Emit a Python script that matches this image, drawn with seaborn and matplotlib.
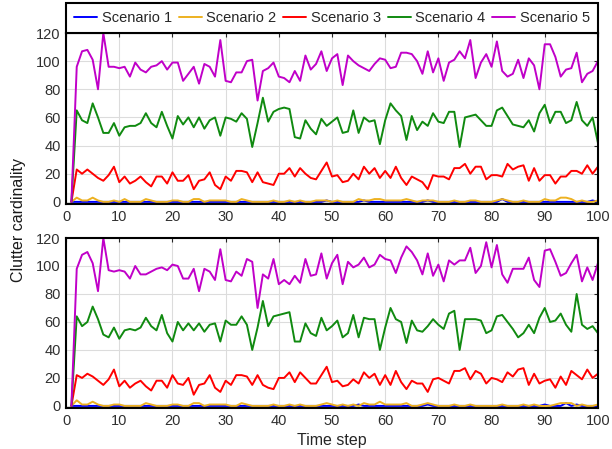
import matplotlib
matplotlib.use("Agg")
import matplotlib.pyplot as plt
import pandas as pd
import seaborn as sns

time_step = list(range(1, 101))
scenarios = ["Scenario 1", "Scenario 2", "Scenario 3", "Scenario 4", "Scenario 5"]
colors = ["#0000ff", "#edb120", "#ff0000", "#108a10", "#c000c8"]

top_s1 = [0, 0, 0, 0, 0, 0, 0, 0, 0, 0, 0, 0, 0, 0, 0, 0, 0, 0, 0, 0,
          0, 0, 0, 0, 0, 0, 0, 0, 0, 0, 0, 0, 0, 0, 0, 0, 0, 0, 0, 0,
          0, 0, 0, 0, 0, 0, 0, 0, 1, 0, 0, 0, 0, 0, 0, 1, 0, 0, 0, 0,
          0, 0, 0, 0, 0, 0, 0, 1, 0, 0, 0, 0, 0, 0, 0, 0, 0, 0, 0, 0,
          0, 2, 0, 0, 0, 0, 0, 0, 0, 0, 0, 0, 0, 0, 0, 0, 0, 0, 1, 0]
top_s2 = [0, 3, 1, 1, 3, 1, 0, 0, 1, 0, 2, 0, 0, 0, 2, 1, 0, 0, 0, 1,
          1, 0, 0, 2, 2, 0, 1, 1, 1, 1, 0, 0, 2, 1, 0, 0, 0, 0, 1, 0,
          0, 1, 0, 1, 0, 0, 1, 1, 1, 0, 1, 0, 0, 0, 2, 1, 1, 2, 2, 1,
          1, 1, 1, 2, 1, 0, 1, 1, 1, 0, 0, 0, 1, 0, 0, 1, 1, 0, 0, 0,
          1, 2, 1, 0, 0, 1, 0, 0, 0, 2, 1, 1, 3, 3, 2, 0, 1, 0, 0, 1]
top_s3 = [0, 23, 20, 23, 20, 17, 15, 19, 25, 14, 18, 13, 15, 18, 14, 11, 18, 18, 13, 21,
          15, 15, 19, 9, 15, 16, 21, 12, 9, 18, 15, 22, 22, 21, 14, 21, 14, 13, 12, 20,
          20, 24, 18, 24, 20, 17, 16, 22, 28, 18, 19, 14, 15, 20, 16, 25, 20, 24, 17, 22,
          17, 25, 17, 12, 18, 16, 14, 9, 19, 18, 18, 16, 24, 24, 27, 20, 25, 25, 16, 19,
          19, 18, 27, 23, 25, 26, 15, 24, 15, 19, 19, 13, 18, 18, 22, 22, 20, 26, 20, 25]
top_s4 = [0, 65, 58, 56, 70, 60, 49, 49, 56, 47, 53, 54, 54, 56, 63, 56, 53, 64, 54, 45,
          61, 55, 60, 53, 60, 52, 58, 60, 47, 60, 59, 57, 63, 59, 39, 56, 74, 57, 64, 66,
          67, 66, 46, 45, 58, 52, 48, 59, 54, 57, 60, 49, 50, 65, 49, 60, 57, 58, 41, 58,
          70, 65, 61, 44, 61, 51, 57, 54, 63, 57, 56, 64, 64, 39, 60, 61, 62, 58, 54, 54,
          65, 67, 61, 55, 54, 53, 58, 50, 63, 69, 56, 64, 64, 56, 58, 71, 58, 54, 60, 42]
top_s5 = [0, 96, 107, 108, 101, 80, 120, 96, 96, 95, 96, 89, 99, 94, 92, 96, 97, 100, 94, 99,
          99, 86, 91, 96, 84, 98, 96, 89, 115, 86, 85, 92, 92, 100, 101, 72, 93, 95, 99, 89,
          88, 85, 93, 86, 104, 94, 98, 107, 93, 102, 105, 83, 104, 100, 97, 95, 93, 98, 102, 101,
          95, 96, 106, 106, 105, 100, 91, 107, 92, 102, 86, 99, 101, 107, 102, 115, 88, 99, 105, 96,
          114, 93, 89, 91, 101, 88, 102, 97, 80, 112, 112, 103, 89, 94, 95, 106, 85, 91, 93, 100]

bottom_s1 = [0, 0, 0, 0, 0, 0, 0, 0, 0, 0, 0, 0, 0, 0, 0, 0, 0, 0, 0, 0,
             0, 0, 0, 0, 0, 0, 0, 0, 0, 0, 0, 0, 0, 0, 0, 0, 0, 0, 0, 0,
             0, 0, 0, 0, 0, 0, 0, 0, 0, 0, 0, 0, 0, 0, 1, 0, 0, 0, 0, 0,
             0, 0, 0, 0, 0, 0, 0, 1, 0, 0, 0, 0, 0, 0, 0, 0, 0, 0, 0, 0,
             0, 0, 0, 0, 0, 0, 0, 0, 0, 1, 0, 0, 0, 2, 0, 1, 0, 0, 0, 0]
bottom_s2 = [0, 4, 1, 1, 3, 1, 0, 0, 1, 1, 0, 0, 0, 0, 2, 1, 0, 0, 0, 1,
             1, 0, 0, 2, 2, 0, 1, 1, 1, 1, 0, 0, 2, 1, 0, 0, 0, 0, 1, 0,
             0, 1, 0, 1, 0, 0, 0, 1, 2, 1, 0, 1, 0, 1, 0, 2, 1, 1, 3, 1,
             1, 1, 1, 2, 0, 0, 1, 2, 1, 0, 0, 0, 1, 0, 0, 1, 0, 0, 0, 0,
             0, 1, 0, 0, 0, 1, 0, 1, 0, 0, 0, 1, 2, 2, 2, 0, 1, 0, 0, 1]
bottom_s3 = [0, 22, 20, 23, 21, 18, 15, 19, 26, 14, 18, 13, 16, 18, 14, 11, 18, 18, 13, 22,
             16, 15, 20, 8, 15, 16, 22, 13, 10, 18, 15, 22, 22, 21, 15, 22, 15, 13, 12, 20,
             20, 24, 17, 24, 20, 16, 16, 22, 28, 17, 18, 14, 15, 19, 16, 24, 20, 23, 15, 22,
             15, 25, 17, 12, 18, 16, 16, 10, 19, 20, 18, 16, 25, 25, 27, 19, 25, 23, 16, 20,
             19, 17, 24, 21, 26, 27, 15, 23, 16, 18, 19, 13, 21, 15, 25, 22, 19, 26, 20, 23]
bottom_s4 = [0, 64, 57, 60, 71, 62, 51, 49, 56, 48, 54, 55, 54, 56, 63, 57, 54, 65, 52, 46,
             60, 54, 59, 54, 59, 53, 58, 59, 46, 61, 58, 58, 64, 58, 40, 56, 75, 57, 64, 65,
             66, 67, 46, 46, 59, 52, 50, 63, 54, 57, 61, 49, 52, 65, 49, 63, 62, 62, 40, 56,
             70, 62, 60, 45, 61, 54, 53, 57, 62, 58, 55, 66, 68, 40, 62, 62, 62, 61, 52, 54,
             64, 65, 60, 55, 49, 52, 58, 52, 63, 70, 60, 61, 66, 58, 53, 80, 58, 55, 57, 52]
bottom_s5 = [0, 98, 108, 110, 102, 82, 120, 97, 96, 97, 96, 91, 100, 94, 94, 96, 98, 99, 97, 101,
             100, 91, 91, 98, 82, 98, 96, 90, 112, 90, 89, 96, 93, 105, 103, 70, 94, 91, 105, 87,
             90, 87, 93, 88, 105, 93, 94, 109, 91, 102, 108, 87, 103, 99, 101, 106, 99, 101, 108, 105,
             104, 95, 106, 114, 110, 104, 94, 109, 93, 101, 89, 104, 101, 104, 104, 113, 95, 100, 117, 99,
             115, 94, 88, 98, 98, 98, 106, 90, 85, 111, 112, 103, 93, 95, 102, 108, 89, 99, 90, 102]

top_series = [top_s1, top_s2, top_s3, top_s4, top_s5]
bottom_series = [bottom_s1, bottom_s2, bottom_s3, bottom_s4, bottom_s5]


def long_frame(series):
    parts = []
    for name, values in zip(scenarios, series):
        parts.append(pd.DataFrame({"step": time_step, "count": values, "scenario": name}))
    return pd.concat(parts, ignore_index=True)


sns.set_theme(style="whitegrid")
plt.rcParams["font.family"] = ["Liberation Sans", "DejaVu Sans"]

fig = plt.figure(figsize=(6.12, 4.49), dpi=100)
ax_top = fig.add_axes([0.108, 0.5457, 0.869, 0.3808])
ax_bot = fig.add_axes([0.108, 0.0913, 0.869, 0.3786])

for ax, series in [(ax_top, top_series), (ax_bot, bottom_series)]:
    sns.lineplot(data=long_frame(series), x="step", y="count", hue="scenario",
                 hue_order=scenarios, palette=colors, linewidth=1.4, ax=ax, legend=False)
    ax.set_xlim(0, 100)
    ax.set_ylim(-1.5, 120)
    ax.set_xticks(range(0, 101, 10))
    ax.set_yticks(range(0, 121, 20))
    ax.set_xlabel("")
    ax.set_ylabel("")
    ax.grid(True, color="#dcdcdc", linewidth=0.8)
    ax.tick_params(direction="in", length=3, width=0.8, top=True, right=True,
                   labelsize=10.5, labelcolor="#303030", color="#262626", pad=4)
    for spine in ax.spines.values():
        spine.set_color("black")
        spine.set_linewidth(1.5)

handles = ax_top.get_lines()[:5]
leg = ax_top.legend(handles, scenarios, loc="lower left", bbox_to_anchor=(0, 1, 1, 0.165),
                    mode="expand", ncol=5, borderaxespad=0, frameon=True, fancybox=False,
                    fontsize=10.5, handlelength=1.6, handletextpad=0.3, columnspacing=0.8,
                    borderpad=0.55)
leg.get_frame().set_edgecolor("black")
leg.get_frame().set_linewidth(1.5)
leg.get_frame().set_alpha(1)

fig.text(0.03, 0.51, "Clutter cardinality", rotation=90, ha="center", va="center",
         fontsize=11.5, color="#1a1a1a")
fig.text(0.542, 0.02, "Time step", ha="center", va="center", fontsize=11.5, color="#262626")

fig.savefig("out.png", dpi=100)
